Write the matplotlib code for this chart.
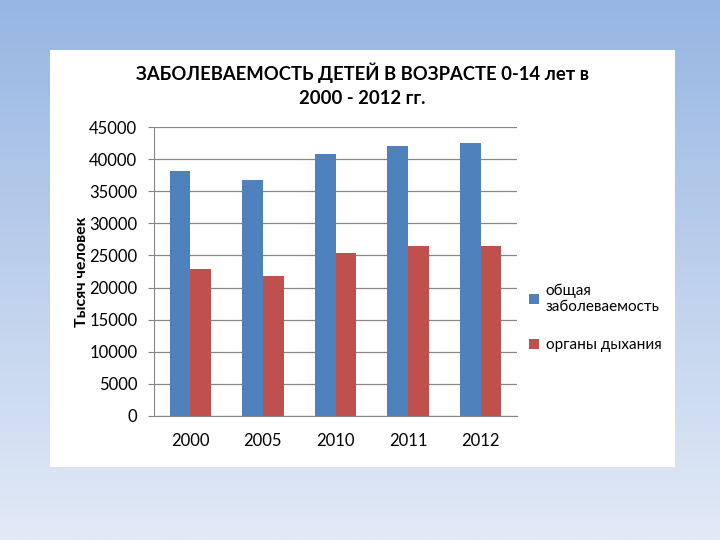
import numpy as np
import matplotlib.pyplot as plt
from matplotlib.patches import Rectangle

# data
years = ["2000", "2005", "2010", "2011", "2012"]
total = [38200, 36800, 40850, 42100, 42550]
resp = [22900, 21850, 25400, 26500, 26500]

blue = "#4F81BD"
red = "#C0504D"

plt.rcParams['font.family'] = ['Lato', 'DejaVu Sans']

fig = plt.figure(figsize=(7.2, 5.4), dpi=100)

# slide background gradient
bg = fig.add_axes([0, 0, 1, 1], zorder=-10)
grad = np.linspace(0, 1, 256).reshape(-1, 1)
c_top = np.array([0x97, 0xB6, 0xE3]) / 255
c_bot = np.array([0xE2, 0xEA, 0xF6]) / 255
img = c_top + (c_bot - c_top) * grad[:, :, None]
bg.imshow(img, aspect="auto", extent=[0, 1, 0, 1])
bg.axis("off")

# white chart panel
fig.patches.append(Rectangle((50 / 720, 1 - 467 / 540), 625 / 720, 417 / 540,
                             transform=fig.transFigure, facecolor="white",
                             edgecolor="none", zorder=-5))

ax = fig.add_axes([154 / 720, 1 - 416 / 540, 363 / 720, 289 / 540])
ax.set_facecolor("none")

x = np.arange(len(years))
w = 0.285
ax.bar(x - w / 2, total, w, color=blue, label="общая\nзаболеваемость", zorder=3)
ax.bar(x + w / 2, resp, w, color=red, label="органы дыхания", zorder=3)

ax.set_ylim(0, 45000)
ax.set_xlim(-0.5, len(years) - 0.5)
ax.set_yticks(range(0, 45001, 5000))
ax.set_xticks(x)
ax.set_xticklabels(years)
ax.grid(axis="y", color="#868686", linewidth=0.9, zorder=0)
for s in ["top", "right"]:
    ax.spines[s].set_visible(False)
for s in ["left", "bottom"]:
    ax.spines[s].set_color("#868686")
ax.tick_params(axis="x", length=0, pad=12, labelsize=12)
ax.tick_params(axis="y", length=4, color="#868686", labelsize=12, pad=8)

ax.set_ylabel("Тысяч человек", fontsize=11.5, fontweight="bold", labelpad=0)

fig.text(0.5 + 0.003, 1 - 73 / 540, "ЗАБОЛЕВАЕМОСТЬ ДЕТЕЙ В ВОЗРАСТЕ 0-14 лет в",
         ha="center", va="center", fontsize=13.3, fontweight="bold")
fig.text(0.5 + 0.003, 1 - 98 / 540, "2000 - 2012 гг.",
         ha="center", va="center", fontsize=13.3, fontweight="bold")

fig.legend(loc="center left", bbox_to_anchor=(515 / 720, 1 - 318 / 540),
           frameon=False, fontsize=11, handlelength=0.7, handleheight=0.7,
           handletextpad=0.4, labelspacing=1.6)

fig.savefig("out.png", dpi=100)
